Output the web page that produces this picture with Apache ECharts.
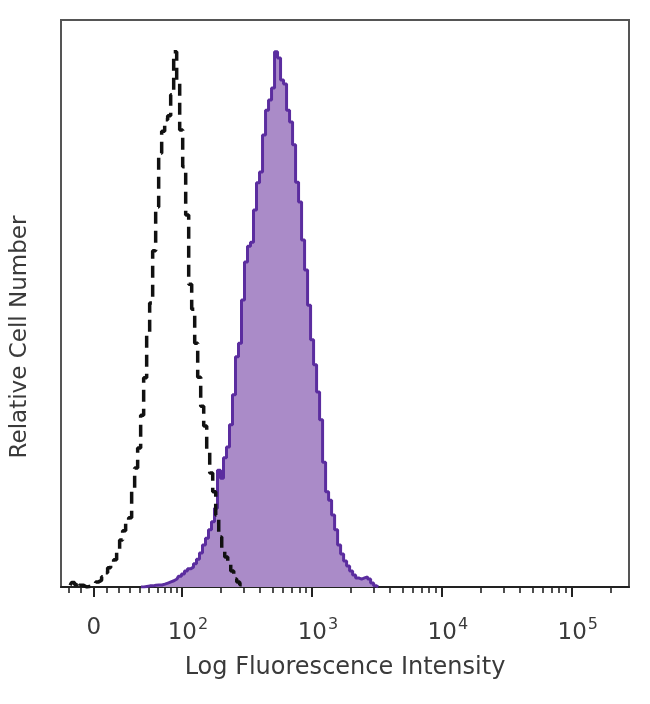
<!DOCTYPE html>
<html>
<head>
<meta charset="utf-8">
<script src="https://cdn.jsdelivr.net/npm/echarts@6/dist/echarts.min.js"></script>
<style>html,body{margin:0;padding:0;background:#fff}#c{width:650px;height:704px}</style>
</head>
<body>
<div id="c"></div>
<script>
// X axis is in display (decade) units: 10^2 -> 2, 10^3 -> 3 ...; zero sits in the linear part
const X_MIN = 1.07, X_MAX = 5.44;
const ZERO_POS = 1.323;
const majorTickValues = [ZERO_POS, 2, 3, 4, 5];
const majorTickLabels = ['0', '10|2', '10|3', '10|4', '10|5'];
// minor tick raw values (fluorescence units)
const minorLinearValues = [-20, -10, 10, 20, 30, 40, 50, 60, 70, 80, 90];
const minorLogValues = [200,300,400,500,600,700,800,900,2000,3000,4000,5000,6000,7000,8000,9000,
  20000,30000,40000,50000,60000,70000,80000,90000,200000];

// Stained sample histogram (percent of max height), bins start at purpleStart, width binWidth
const purpleStart = 1.685;
const binWidth = 0.0231;
const purpleCounts = [0,0,0.1,0.2,0.2,0.3,0.35,0.35,0.5,0.7,0.9,1.1,1.4,1.9,2.3,2.8,3.2,3.5,4.1,4.9,
  6.0,7.4,8.6,10.1,11.5,13.9,20.6,19.2,22.8,24.7,28.6,33.9,40.6,43.0,50.6,57.3,60.1,60.8,66.5,71.3,
  73.2,79.7,84.1,85.9,88.0,94.4,93.3,89.4,88.7,84.1,82.0,78.0,71.4,67.9,61.2,55.9,49.7,43.6,39.2,34.4,
  29.5,22.0,16.8,15.3,12.7,10.1,7.4,5.8,4.6,3.7,2.8,2.1,1.6,1.4,1.6,1.8,1.4,0.7,0.2,0];

// Isotype control histogram (dashed)
const controlStart = 1.14;
const controlCounts = [0.3,0.8,0.4,0.9,0.3,0,0.1,0.2,0.5,0.9,1.2,1.8,2.5,3.4,4.4,4.8,6.5,8.3,9.9,11.5,
  12.2,17.1,21.0,24.5,30.3,36.9,45.0,50.1,59.3,67.0,76.5,80.4,82.4,83.1,86.8,94.4,88.9,80.6,74.1,65.6,
  53.4,49.0,43.0,37.0,31.9,28.4,24.1,20.1,16.8,12.7,8.8,6.9,5.3,4.2,2.8,1.4,0.9,0.4,0.2,0];

const C_ASINH = 43.65;
function toPos(v) {
  if (v >= 100) return Math.log10(v);
  return ZERO_POS + Math.asinh(v / C_ASINH) / Math.LN10;
}
function toSeries(start, counts) {
  return counts.map((c, i) => [start + i * binWidth, c]);
}
const minorTickValues = minorLinearValues.concat(minorLogValues).map(toPos);

const chart = echarts.init(document.getElementById('c'));
const FONT = 'DejaVu Sans';
const TXT = '#3a3a3a';
chart.setOption({
  animation: false,
  backgroundColor: '#ffffff',
  grid: { left: 61, right: 21, top: 20, bottom: 117, show: true, borderColor: '#555', borderWidth: 2, backgroundColor: 'transparent' },
  graphic: [{
    type: 'text', x: 20, y: 337, rotation: Math.PI / 2,
    style: { text: 'Relative Cell Number', fontFamily: FONT, fontSize: 23, fill: TXT, align: 'center', verticalAlign: 'middle' }
  }],
  xAxis: [{
    type: 'value', min: X_MIN, max: X_MAX, position: 'bottom',
    name: 'Log Fluorescence Intensity', nameLocation: 'middle', nameGap: 69,
    nameTextStyle: { fontFamily: FONT, fontSize: 24, color: TXT },
    axisLine: { show: true, lineStyle: { color: '#222', width: 2 } },
    axisTick: { show: true, inside: false, length: 10, customValues: majorTickValues, lineStyle: { color: '#222', width: 2 } },
    axisLabel: {
      customValues: majorTickValues, margin: 30,
      formatter: function (v) {
        for (let i = 0; i < majorTickValues.length; i++) {
          if (Math.abs(v - majorTickValues[i]) < 1e-6) {
            const parts = majorTickLabels[i].split('|');
            return parts.length > 1 ? '{e|' + parts[0] + '}{s|' + parts[1] + '}' : '{b|' + parts[0] + '}';
          }
        }
        return '';
      },
      rich: {
        b: { fontFamily: FONT, fontSize: 23, color: TXT },
        e: { fontFamily: FONT, fontSize: 23, color: TXT, padding: [0, 0, 0, 12] },
        s: { fontFamily: FONT, fontSize: 16, color: TXT, padding: [0, 0, 16, 1] }
      }
    },
    splitLine: { show: false }
  }, {
    type: 'value', min: X_MIN, max: X_MAX, position: 'bottom',
    axisLine: { show: false },
    axisTick: { show: true, length: 6, customValues: minorTickValues, lineStyle: { color: '#222', width: 1.6 } },
    axisLabel: { show: false },
    splitLine: { show: false }
  }],
  yAxis: {
    type: 'value', min: 0, max: 100,
    axisLine: { show: false }, axisTick: { show: false }, axisLabel: { show: false }, splitLine: { show: false }
  },
  series: [{
    type: 'line', xAxisIndex: 0, step: 'middle', symbol: 'none',
    data: toSeries(purpleStart, purpleCounts),
    lineStyle: { color: '#5b2d9f', width: 3 },
    areaStyle: { color: '#aa8bc8', opacity: 1 },
    z: 2
  }, {
    type: 'line', xAxisIndex: 0, step: 'middle', symbol: 'none',
    data: toSeries(controlStart, controlCounts),
    lineStyle: { color: '#111', width: 3.5, type: [12, 7] },
    z: 3
  }]
});
</script>
</body>
</html>
